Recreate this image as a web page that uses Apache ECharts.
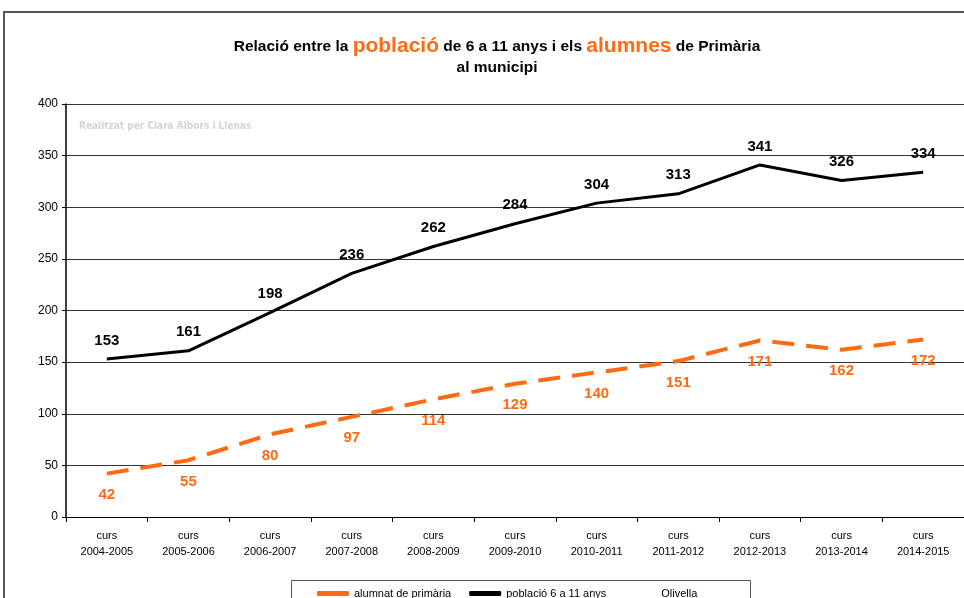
<!DOCTYPE html>
<html>
<head>
<meta charset="utf-8">
<script src="https://cdn.jsdelivr.net/npm/echarts@6/dist/echarts.min.js"></script>
<style>
	html, body { margin: 0; padding: 0; background: #fff; }
	#chart { width: 964px; height: 598px; }
</style>
</head>
<body>
<div id="chart"></div>
<script>
var cursos = ['2004-2005', '2005-2006', '2006-2007', '2007-2008', '2008-2009', '2009-2010',
	'2010-2011', '2011-2012', '2012-2013', '2013-2014', '2014-2015'];
var alumnat = [42, 55, 80, 97, 114, 129, 140, 151, 171, 162, 172];
var poblacio = [153, 161, 198, 236, 262, 284, 304, 313, 341, 326, 334];
var yTicks = [0, 50, 100, 150, 200, 250, 300, 350, 400];

var taronja = '#ff6a13';
var font = 'Liberation Sans, Arial, sans-serif';

var chartDom = document.getElementById('chart');
var myChart = echarts.init(chartDom);
var option = {
	backgroundColor: '#fff',
	animation: false,
	title: {
		text: '{n|Relació entre la }{o|població}{n| de 6 a 11 anys i els }{o|alumnes}{n| de Primària}\n{n|al municipi}',
		left: 492,
		top: 31,
		textAlign: 'center',
		textStyle: {
			fontFamily: font,
			rich: {
				n: { fontSize: 15.5, fontWeight: 'bold', color: '#000', fontFamily: font, lineHeight: 21 },
				o: { fontSize: 21, color: taronja, fontFamily: font, lineHeight: 21 }
			}
		}
	},
	graphic: [
		{
			type: 'rect',
			shape: { x: 4, y: 12, width: 990, height: 620 },
			style: { fill: 'none', stroke: '#555', lineWidth: 2 },
			silent: true
		},
		{
			type: 'rect',
			shape: { x: 291.5, y: 580.5, width: 459, height: 30 },
			style: { fill: '#fff', stroke: '#555', lineWidth: 1 },
			silent: true
		},
		{
			type: 'text',
			left: 79,
			top: 121,
			style: {
				text: 'Realitzat per Clara Albors i Llenas',
				fill: '#d4d4d4',
				font: 'bold 10px "DejaVu Sans Condensed", sans-serif'
			},
			silent: true
		}
	],
	legend: {
		left: 312,
		top: 583,
		itemWidth: 32,
		itemHeight: 5,
		itemGap: 18,
		textStyle: { fontFamily: font, fontSize: 11, color: '#000' },
		data: [
			{ name: 'alumnat de primària', icon: 'roundRect' },
			{ name: 'població 6 a 11 anys', icon: 'roundRect' },
			{ name: 'Olivella', icon: 'rect', itemStyle: { color: 'rgba(0,0,0,0)' } }
		]
	},
	grid: { left: 66, top: 104, width: 903, height: 413 },
	xAxis: {
		type: 'category',
		boundaryGap: true,
		data: cursos,
		axisLine: { lineStyle: { color: '#000', width: 1 } },
		axisTick: { show: true, length: 5, lineStyle: { color: '#000' } },
		axisLabel: {
			fontFamily: font,
			fontSize: 11,
			color: '#000',
			lineHeight: 16,
			margin: 11,
			interval: 0,
			formatter: function (v) { return 'curs\n' + v; }
		}
	},
	yAxis: {
		type: 'value',
		min: yTicks[0],
		max: yTicks[yTicks.length - 1],
		interval: 50,
		axisLine: { show: true, lineStyle: { color: '#000', width: 1.5 } },
		axisTick: { show: true, length: 4, lineStyle: { color: '#000' } },
		splitLine: { show: true, lineStyle: { color: '#333', width: 1 } },
		axisLabel: { fontFamily: font, fontSize: 12, color: '#000', margin: 8 }
	},
	series: [
		{
			name: 'alumnat de primària',
			type: 'line',
			data: alumnat,
			symbol: 'circle',
			symbolSize: 0,
			showSymbol: true,
			color: taronja,
			lineStyle: { color: taronja, width: 4, type: [22, 12] },
			label: {
				show: true,
				position: 'bottom',
				distance: 14,
				color: taronja,
				fontFamily: font,
				fontSize: 15,
				fontWeight: 'bold'
			}
		},
		{
			name: 'població 6 a 11 anys',
			type: 'line',
			data: poblacio,
			symbol: 'circle',
			symbolSize: 0,
			showSymbol: true,
			color: '#000',
			lineStyle: { color: '#000', width: 3 },
			label: {
				show: true,
				position: 'top',
				distance: 11,
				color: '#000',
				fontFamily: font,
				fontSize: 15,
				fontWeight: 'bold'
			}
		},
		{
			name: 'Olivella',
			type: 'line',
			data: [],
			symbol: 'none',
			color: 'rgba(0,0,0,0)'
		}
	]
};
myChart.setOption(option);
</script>
</body>
</html>
